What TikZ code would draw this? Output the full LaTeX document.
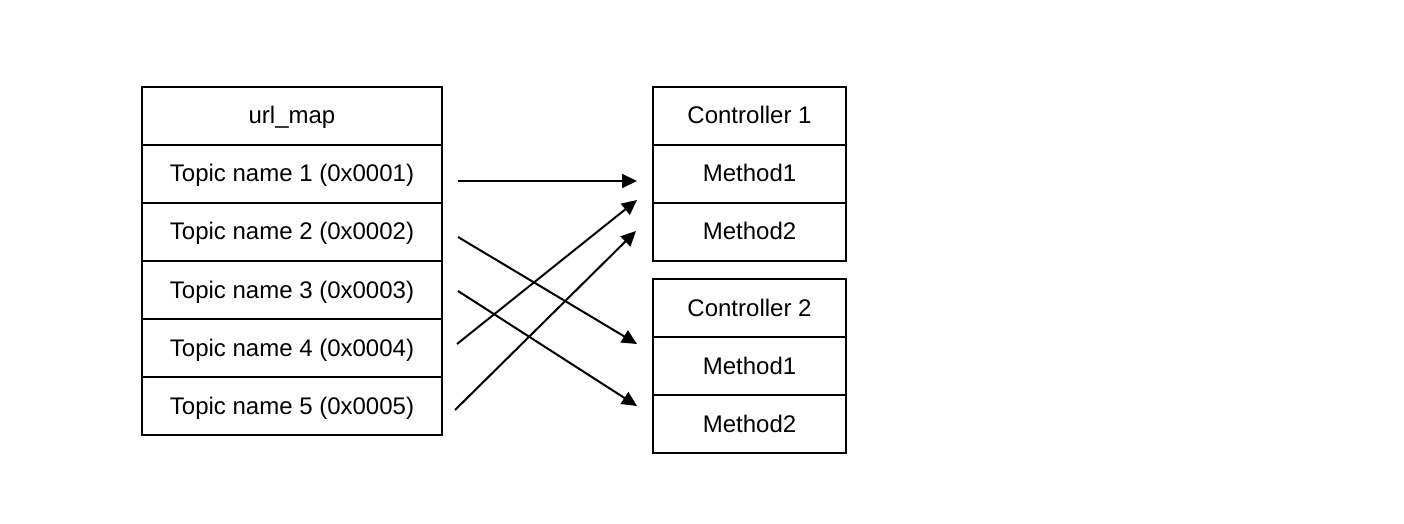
\documentclass[tikz,border=0pt]{standalone}
\usepackage{fontspec}
\setmainfont{Liberation Sans}
\usetikzlibrary{arrows.meta}
\begin{document}
\begin{tikzpicture}[x=0.5pt,y=-0.5pt,
  cell/.style={draw,line width=1pt,rectangle,inner sep=0pt,outer sep=0pt,
    minimum height=29pt,text height=10pt,text depth=2pt,
    font=\fontsize{12pt}{14pt}\selectfont},
  lcell/.style={cell,minimum width=150pt},
  rcell/.style={cell,minimum width=96.5pt},
  link/.style={line width=1pt,-{Triangle[length=7.5pt,width=7pt]}}]
\useasboundingbox (0,0) rectangle (1404,524);
% url_map table
\node[lcell] (map) at (292,116) {url\_map};
\node[lcell] (t1) at (292,174) {Topic name 1 (0x0001)};
\node[lcell] (t2) at (292,232) {Topic name 2 (0x0002)};
\node[lcell] (t3) at (292,290) {Topic name 3 (0x0003)};
\node[lcell] (t4) at (292,348) {Topic name 4 (0x0004)};
\node[lcell] (t5) at (292,406) {Topic name 5 (0x0005)};
% controllers
\node[rcell] (c1) at (749.5,116) {Controller 1};
\node[rcell] (c1m1) at (749.5,174) {Method1};
\node[rcell] (c1m2) at (749.5,232) {Method2};
\node[rcell] (c2) at (749.5,308) {Controller 2};
\node[rcell] (c2m1) at (749.5,366) {Method1};
\node[rcell] (c2m2) at (749.5,424) {Method2};
% arrow end points
\coordinate (s1) at (458,181);
\coordinate (s2) at (458,237);
\coordinate (s3) at (458,291);
\coordinate (s4) at (457,344);
\coordinate (s5) at (455,410);
\coordinate (e1) at (637,181);
\coordinate (e2) at (637,344);
\coordinate (e3) at (637,406);
\coordinate (e4) at (637,200);
\coordinate (e5) at (636,231);
\draw[link] (s1) -- (e1);
\draw[link] (s2) -- (e2);
\draw[link] (s3) -- (e3);
\draw[link] (s4) -- (e4);
\draw[link] (s5) -- (e5);
\end{tikzpicture}
\end{document}
